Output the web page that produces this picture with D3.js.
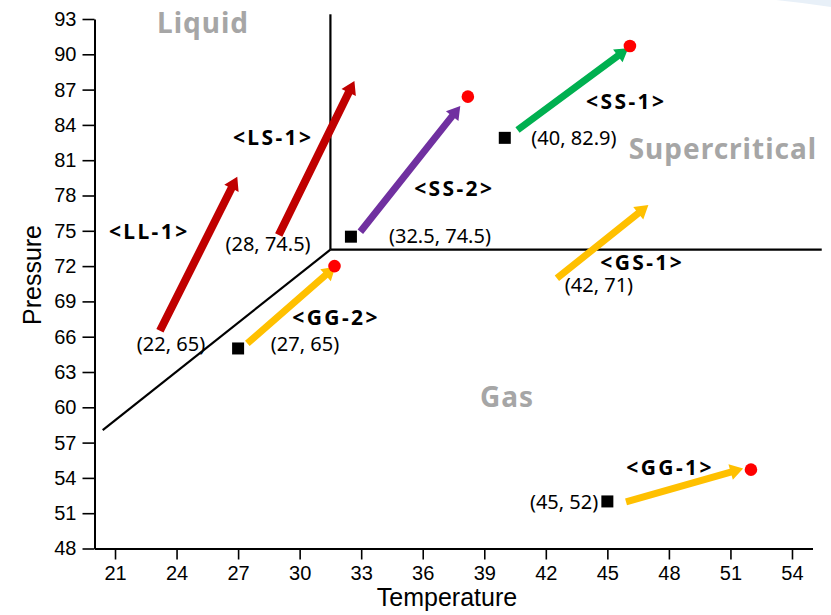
<!DOCTYPE html>
<html>
<head>
<meta charset="utf-8">
<script src="https://cdn.jsdelivr.net/npm/d3@7"></script>
<style>
  html, body { margin: 0; padding: 0; background: #fff; }
  svg { display: block; }
</style>
</head>
<body>
<svg id="chart" width="831" height="615"></svg>
<script>
// Axis ticks
const xMajorTicks = [21, 24, 27, 30, 33, 36, 39, 42, 45, 48, 51, 54];
const yMajorTicks = [48, 51, 54, 57, 60, 63, 66, 69, 72, 75, 78, 81, 84, 87, 90, 93];

// Phase boundaries (temperature, pressure)
const vaporLine = [[20.4, 58.06], [31.5, 73.4]];
const meltLine = [[31.5, 73.4], [31.5, 93.4]];
const criticalIsobar = [[31.5, 73.4], [55.45, 73.4]];

// Process paths: start and end state
const processNames = ["LL-1", "LS-1", "SS-2", "SS-1", "GS-1", "GG-2", "GG-1"];
const processColors = ["#c00000", "#c00000", "#7030a0", "#00b050", "#ffc000", "#ffc000", "#ffc000"];
const processFrom = [[23.19, 66.5], [28.98, 74.64], [32.96, 74.92], [40.62, 83.57], [42.54, 70.96], [27.45, 65.43], [45.91, 51.96]];
const processTo = [[26.96, 79.6], [32.67, 87.74], [37.83, 85.61], [46.02, 90.52], [47.0, 77.19], [31.74, 71.95], [51.62, 54.8]];
const processLabelAt = [[22.61, 74.3], [28.65, 82.29], [37.48, 77.96], [45.86, 85.35], [46.64, 71.67], [31.72, 66.99], [48.0, 54.25]];

// Initial states (squares) and final states (dots)
const startStates = [[27, 65], [32.5, 74.5], [40, 82.9], [45, 52]];
const endStates = [[31.7, 72.0], [38.2, 86.4], [46.1, 90.7], [52.0, 54.7]];

// State coordinate annotations
const stateTexts = ["(22, 65)", "(27, 65)", "(28, 74.5)", "(32.5, 74.5)", "(40, 82.9)", "(42, 71)", "(45, 52)"];
const stateTextAt = [[23.73, 64.78], [30.26, 64.78], [28.46, 73.28], [36.84, 73.96], [43.37, 82.32], [44.59, 69.82], [42.89, 51.36]];

// Phase region names
const regionNames = ["Liquid", "Supercritical", "Gas"];
const regionAt = [[25.29, 91.81], [50.63, 81.1], [40.11, 60.03]];

const svg = d3.select("#chart");

// faint decoration in the top-right corner
svg.append("path")
  .attr("d", "M776,0 Q805,3 831,7 L831,0 Z")
  .attr("fill", "#e8f0f8");

const x = d3.scaleLinear().domain([20, 55]).range([94.5, 812.5]);
const y = d3.scaleLinear().domain([48, 93]).range([548.5, 19]);

const tickFont = "'Liberation Sans', Arial, sans-serif";

// minor ticks
const xMinor = d3.range(22.5, 55, 3);
const yMinor = d3.range(48, 94, 1).filter(v => !yMajorTicks.includes(v));

const gx = svg.append("g").attr("transform", `translate(0,${y.range()[0]})`);
gx.call(d3.axisBottom(x).tickValues(xMinor).tickSize(6).tickSizeOuter(0).tickFormat(""));
gx.call(d3.axisBottom(x).tickValues(xMajorTicks).tickSize(11).tickSizeOuter(0).tickPadding(6));

const gy = svg.append("g").attr("transform", `translate(${x.range()[0]},0)`);
gy.call(d3.axisLeft(y).tickValues(yMinor).tickSize(6).tickSizeOuter(0).tickFormat(""));
gy.call(d3.axisLeft(y).tickValues(yMajorTicks).tickSize(12).tickSizeOuter(0).tickPadding(6));

[gx, gy].forEach(g => {
  g.selectAll("path.domain").attr("stroke", "#000").attr("stroke-width", 2);
  g.selectAll(".tick line").attr("stroke", "#000").attr("stroke-width", 1.6);
  g.selectAll(".tick text").attr("fill", "#000")
    .style("font-family", tickFont).style("font-size", "20px");
});

// axis titles
svg.append("text")
  .attr("x", (x.range()[0] + x.range()[1]) / 2 + (447 - 453.5))
  .attr("y", 606)
  .attr("text-anchor", "middle")
  .style("font-family", tickFont).style("font-size", "25px")
  .text("Temperature");

svg.append("text")
  .attr("transform", `translate(41,${(y.range()[0] + y.range()[1]) / 2 + (275 - 283.75)}) rotate(-90)`)
  .attr("text-anchor", "middle")
  .style("font-family", tickFont).style("font-size", "25px")
  .text("Pressure");

// phase boundaries
const line = d3.line().x(d => x(d[0])).y(d => y(d[1]));
[vaporLine, meltLine, criticalIsobar].forEach(seg => {
  svg.append("path").attr("d", line(seg))
    .attr("fill", "none").attr("stroke", "#000").attr("stroke-width", 2.2);
});

// arrows as filled outlines
function arrowPath(p0, p1, w, hw, hl) {
  const dx = p1[0] - p0[0], dy = p1[1] - p0[1];
  const len = Math.hypot(dx, dy);
  const ux = dx / len, uy = dy / len;
  const nx = -uy, ny = ux;
  const bx = p1[0] - ux * hl, by = p1[1] - uy * hl;
  const pts = [
    [p0[0] + nx * w / 2, p0[1] + ny * w / 2],
    [bx + nx * w / 2, by + ny * w / 2],
    [bx + nx * hw / 2, by + ny * hw / 2],
    [p1[0], p1[1]],
    [bx - nx * hw / 2, by - ny * hw / 2],
    [bx - nx * w / 2, by - ny * w / 2],
    [p0[0] - nx * w / 2, p0[1] - ny * w / 2]
  ];
  return "M" + pts.map(p => p.join(",")).join("L") + "Z";
}

processNames.forEach((name, i) => {
  const p0 = [x(processFrom[i][0]), y(processFrom[i][1])];
  const p1 = [x(processTo[i][0]), y(processTo[i][1])];
  const w = processColors[i] === "#c00000" ? 8 : 7;
  svg.append("path")
    .attr("d", arrowPath(p0, p1, w, 16, 13))
    .attr("fill", processColors[i]);
});

// start squares and end dots
svg.selectAll("rect.start").data(startStates).join("rect")
  .attr("class", "start")
  .attr("x", d => x(d[0]) - 6).attr("y", d => y(d[1]) - 6)
  .attr("width", 12).attr("height", 12)
  .attr("fill", "#000");

svg.selectAll("circle.end").data(endStates).join("circle")
  .attr("class", "end")
  .attr("cx", d => x(d[0])).attr("cy", d => y(d[1]))
  .attr("r", 6.3)
  .attr("fill", "#ff0000");

// process names
processNames.forEach((name, i) => {
  svg.append("text")
    .attr("x", x(processLabelAt[i][0]) + 1.2).attr("y", y(processLabelAt[i][1]))
    .attr("text-anchor", "middle")
    .style("font-family", "'Noto Sans', sans-serif")
    .style("font-weight", "bold").style("font-size", "21px")
    .style("letter-spacing", "2.4px")
    .attr("fill", "#000")
    .text(`<${name}>`);
});

// state coordinates
stateTexts.forEach((t, i) => {
  svg.append("text")
    .attr("x", x(stateTextAt[i][0])).attr("y", y(stateTextAt[i][1]))
    .attr("text-anchor", "middle")
    .style("font-family", "'Noto Sans', sans-serif")
    .style("font-size", "20px")
    .attr("fill", "#000")
    .text(t);
});

// region names
regionNames.forEach((t, i) => {
  svg.append("text")
    .attr("x", x(regionAt[i][0])).attr("y", y(regionAt[i][1]))
    .attr("text-anchor", "middle")
    .style("font-family", "'Noto Sans', sans-serif")
    .style("font-weight", "bold").style("font-size", "28px")
    .style("letter-spacing", "1px")
    .attr("fill", "#a6a6a6")
    .text(t);
});
</script>
</body>
</html>
